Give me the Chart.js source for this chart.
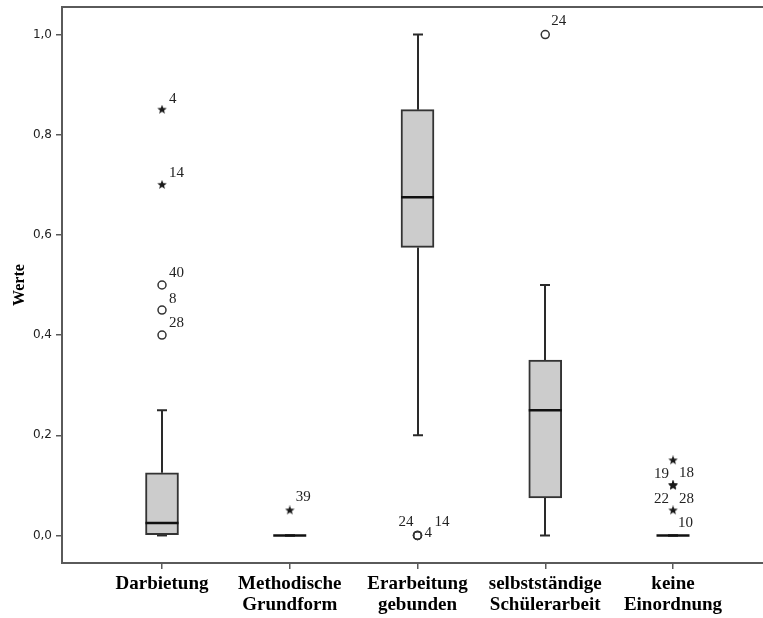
<!DOCTYPE html>
<html>
<head>
<meta charset="utf-8">
<script src="https://cdn.jsdelivr.net/npm/chart.js@4"></script>
<style>
  html, body { margin: 0; padding: 0; background: #ffffff; }
  canvas { display: block; }
</style>
</head>
<body>
<canvas id="chart" width="763" height="618"></canvas>
<script>
// Categories (two-line tick labels) and box statistics per category
const categories = [
  ['Darbietung'],
  ['Methodische', 'Grundform'],
  ['Erarbeitung', 'gebunden'],
  ['selbstständige', 'Schülerarbeit'],
  ['keine', 'Einordnung']
];
const yTicks = [0, 0.2, 0.4, 0.6, 0.8, 1.0];

const q1Values          = [0,     0, 0.575, 0.075, 0];
const medianValues      = [0.025, 0, 0.675, 0.25,  0];
const q3Values          = [0.125, 0, 0.85,  0.35,  0];
const whiskerLowValues  = [0,     0, 0.2,   0,     0];
const whiskerHighValues = [0.25,  0, 1.0,   0.5,   0];

// Outliers (circles): category number, value, case number
const outlierGroup  = [1, 1, 1, 3, 3, 3, 4];
const outlierValues = [0.5, 0.45, 0.4, 0, 0, 0, 1.0];
const outlierCases  = ['40', '8', '28', '24', '4', '14', '24'];

// Extreme values (stars): category number, value, case number
const extremeGroup  = [1, 1, 2, 5, 5, 5, 5, 5];
const extremeValues = [0.85, 0.7, 0.05, 0.15, 0.1, 0.1, 0.1, 0.05];
const extremeCases  = ['4', '14', '39', '18', '19', '22', '28', '10'];

// Where each case label sits next to its marker: [dx, dy, align]
const outlierLabelPlacement = [
  [7, -12, 'left'], [7, -11, 'left'], [7, -12, 'left'],
  [-4, -13, 'right'], [7, -2, 'left'], [17, -13, 'left'],
  [6, -13, 'left']
];
const extremeLabelPlacement = [
  [7, -11, 'left'], [7, -12, 'left'], [6, -13, 'left'],
  [6, 13, 'left'], [-4, -11, 'right'], [-4, 14, 'right'], [6, 14, 'left'],
  [5, 13, 'left']
];

const positions = categories.map((_, i) => i + 1);

function starImage(size, color) {
  const c = document.createElement('canvas');
  c.width = c.height = size;
  const g = c.getContext('2d');
  g.fillStyle = color;
  g.beginPath();
  const cx = size / 2, cy = size / 2, ro = size / 2, ri = ro * 0.42;
  for (let k = 0; k < 10; k++) {
    const r = k % 2 ? ri : ro;
    const a = -Math.PI / 2 + k * Math.PI / 5;
    g.lineTo(cx + r * Math.cos(a), cy + r * Math.sin(a));
  }
  g.closePath();
  g.fill();
  return c;
}
const star = starImage(10, '#1a1a1a');

const AXIS_COLOR = '#5a5a5a';

// Whiskers, medians, case labels and the top frame line
const boxplotParts = {
  id: 'boxplotParts',
  beforeDatasetsDraw(chart) {
    const { ctx, scales: { x, y } } = chart;
    const cap = 5;
    ctx.save();
    ctx.strokeStyle = '#2a2a2a';
    ctx.lineWidth = 2;
    positions.forEach((p, i) => {
      const cx = Math.round(x.getPixelForValue(p));
      const segs = [[q3Values[i], whiskerHighValues[i]], [q1Values[i], whiskerLowValues[i]]];
      segs.forEach(([from, to]) => {
        const y0 = y.getPixelForValue(from), y1 = y.getPixelForValue(to);
        ctx.beginPath();
        ctx.moveTo(cx, y0); ctx.lineTo(cx, y1);
        ctx.moveTo(cx - cap, y1); ctx.lineTo(cx + cap, y1);
        ctx.stroke();
      });
    });
    ctx.restore();
  },
  afterDatasetsDraw(chart) {
    const { ctx, scales: { x, y } } = chart;
    const half = 33 / 2;
    ctx.save();
    ctx.strokeStyle = '#111111';
    ctx.lineWidth = 2.5;
    positions.forEach((p, i) => {
      const cx = x.getPixelForValue(p);
      const my = y.getPixelForValue(medianValues[i]);
      ctx.beginPath();
      ctx.moveTo(cx - half, my); ctx.lineTo(cx + half, my);
      ctx.stroke();
    });
    ctx.fillStyle = '#222222';
    ctx.font = '15px "Liberation Serif"';
    ctx.textBaseline = 'middle';
    const drawLabels = (groups, values, cases, placement) => {
      cases.forEach((txt, i) => {
        const px = x.getPixelForValue(groups[i]);
        const py = y.getPixelForValue(values[i]);
        const [dx, dy, align] = placement[i];
        ctx.textAlign = align;
        ctx.fillText(txt, px + dx, py + dy);
      });
    };
    drawLabels(outlierGroup, outlierValues, outlierCases, outlierLabelPlacement);
    drawLabels(extremeGroup, extremeValues, extremeCases, extremeLabelPlacement);
    ctx.restore();
  },
  afterDraw(chart) {
    const { ctx, chartArea } = chart;
    ctx.save();
    ctx.strokeStyle = AXIS_COLOR;
    ctx.lineWidth = 2;
    ctx.beginPath();
    ctx.moveTo(chartArea.left - 1, chartArea.top);
    ctx.lineTo(chartArea.right, chartArea.top);
    ctx.stroke();
    ctx.restore();
  }
};

new Chart(document.getElementById('chart'), {
  type: 'scatter',
  data: {
    datasets: [
      {
        type: 'bar',
        label: 'Box',
        data: positions.map((p, i) => ({ x: p, y: [q1Values[i], q3Values[i]] })),
        backgroundColor: '#cccccc',
        borderColor: '#333333',
        borderWidth: 2,
        borderSkipped: false,
        barThickness: 33
      },
      {
        label: 'Ausreißer',
        data: outlierGroup.map((g, i) => ({ x: g, y: outlierValues[i] })),
        pointStyle: 'circle',
        pointRadius: 4,
        borderWidth: 1.5,
        borderColor: '#333333',
        backgroundColor: 'rgba(0,0,0,0)'
      },
      {
        label: 'Extremwerte',
        data: extremeGroup.map((g, i) => ({ x: g, y: extremeValues[i] })),
        pointStyle: star,
        pointRadius: 4
      }
    ]
  },
  options: {
    responsive: false,
    animation: false,
    devicePixelRatio: 1,
    layout: { autoPadding: false, padding: { top: 7, left: 0, right: 0, bottom: 0 } },
    plugins: { legend: { display: false }, tooltip: { enabled: false } },
    scales: {
      x: {
        type: 'linear',
        min: 0.2172,
        max: 5.7045,
        offset: false,
        afterBuildTicks: s => { s.ticks = positions.map(v => ({ value: v })); },
        afterFit: s => { s.height = 55; s.paddingLeft = 0; s.paddingRight = 0; },
        ticks: {
          autoSkip: false,
          maxRotation: 0,
          minRotation: 0,
          padding: 5,
          color: '#000000',
          font: { family: 'Liberation Serif', size: 19, weight: 'bold', lineHeight: 1.08 },
          callback: (v, idx) => categories[idx]
        },
        grid: { offset: false, drawOnChartArea: false, drawTicks: true, tickLength: 6, color: AXIS_COLOR, lineWidth: 1.5 },
        border: { display: true, color: AXIS_COLOR, width: 2 }
      },
      y: {
        type: 'linear',
        min: -0.055,
        max: 1.055,
        afterBuildTicks: s => { s.ticks = yTicks.map(v => ({ value: v })); },
        afterFit: s => { s.width = 62; s.paddingTop = 0; s.paddingBottom = 0; },
        ticks: {
          padding: 4,
          color: '#222222',
          font: { family: 'DejaVu Sans', size: 12 },
          callback: v => v.toFixed(1).replace('.', ',')
        },
        grid: { offset: false, drawOnChartArea: false, drawTicks: true, tickLength: 6, color: AXIS_COLOR, lineWidth: 1.5 },
        border: { display: true, color: AXIS_COLOR, width: 2 },
        title: {
          display: true,
          text: 'Werte',
          color: '#000000',
          font: { family: 'Liberation Serif', size: 16, weight: 'bold' },
          padding: { top: 10, bottom: 0 }
        }
      }
    }
  },
  plugins: [boxplotParts]
});
</script>
</body>
</html>
